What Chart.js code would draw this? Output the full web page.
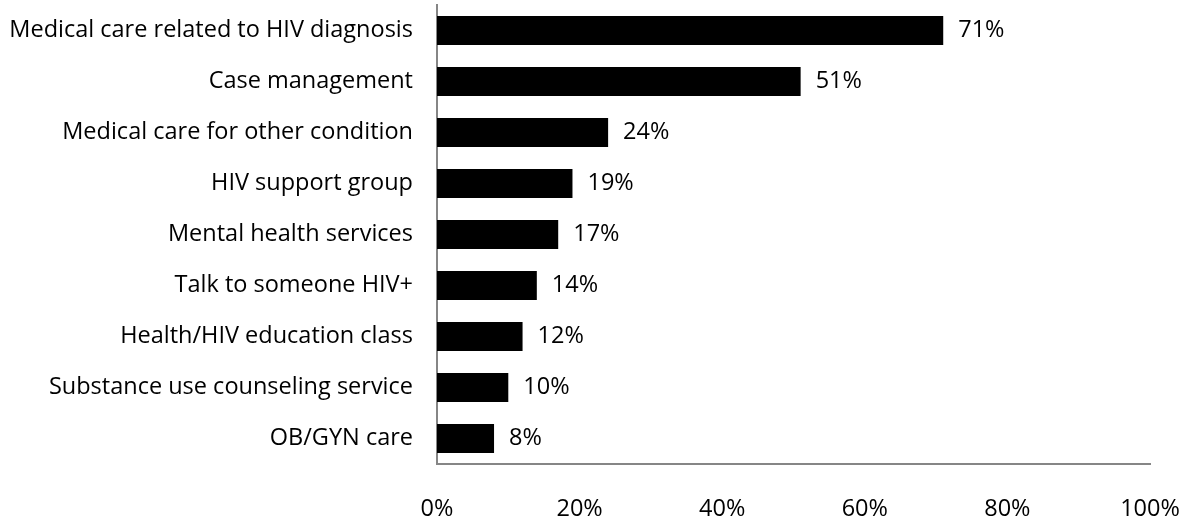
<!DOCTYPE html>
<html>
<head>
<meta charset="utf-8">
<script src="https://cdn.jsdelivr.net/npm/chart.js@4"></script>
<style>
  html, body { margin: 0; padding: 0; background: #fff; }
  #wrap { width: 1188px; height: 522px; position: relative; }
</style>
</head>
<body>
<div id="wrap"><canvas id="chart"></canvas></div>
<script>
// --- Data ---
const categories = [
    'Medical care related to HIV diagnosis',
    'Case management',
    'Medical care for other condition',
    'HIV support group',
    'Mental health services',
    'Talk to someone HIV+',
    'Health/HIV education class',
    'Substance use counseling service',
    'OB/GYN care'
];
const percentValues = [71, 51, 24, 19, 17, 14, 12, 10, 8];
const xTickValues = [0, 20, 40, 60, 80, 100];

const FONT = '"Open Sans", Lato, sans-serif';
const FONT_SIZE = 23.5;

// draws "71%" etc. right of each bar
const barLabels = {
    id: 'barLabels',
    afterDatasetsDraw(chart) {
        const { ctx } = chart;
        const meta = chart.getDatasetMeta(0);
        ctx.save();
        ctx.font = FONT_SIZE + 'px ' + FONT;
        ctx.fillStyle = '#000';
        ctx.textAlign = 'left';
        ctx.textBaseline = 'middle';
        meta.data.forEach((bar, i) => {
            ctx.fillText(percentValues[i] + '%', bar.x + 15, bar.y);
        });
        ctx.restore();
    }
};

new Chart(document.getElementById('chart'), {
    type: 'bar',
    data: {
        labels: categories,
        datasets: [{
            data: percentValues,
            backgroundColor: '#000',
            borderWidth: 0,
            barPercentage: 0.57,
            categoryPercentage: 1
        }]
    },
    options: {
        indexAxis: 'y',
        responsive: true,
        maintainAspectRatio: false,
        animation: false,
        layout: { padding: { top: 5, right: 38, left: 0, bottom: 0 } },
        plugins: { legend: { display: false }, tooltip: { enabled: false } },
        scales: {
            x: {
                min: 0,
                max: 100,
                afterBuildTicks: (scale) => { scale.ticks = xTickValues.map(v => ({ value: v })); },
                afterFit: (scale) => {
                    scale.height = 58;
                    scale.paddingLeft = 0;
                    scale.paddingRight = 0;
                },
                grid: { display: false, drawTicks: false },
                border: { display: true, color: '#868686', width: 2 },
                ticks: {
                    padding: 31,
                    maxRotation: 0,
                    autoSkip: false,
                    color: '#000',
                    font: { family: FONT, size: FONT_SIZE },
                    callback: (v) => v + '%'
                }
            },
            y: {
                afterFit: (scale) => {
                    scale.width = 437;
                    scale.paddingTop = 0;
                    scale.paddingBottom = 0;
                },
                grid: { display: false, drawTicks: false },
                border: { display: true, color: '#868686', width: 2 },
                ticks: {
                    padding: 24,
                    autoSkip: false,
                    color: '#000',
                    font: { family: FONT, size: FONT_SIZE }
                }
            }
        }
    },
    plugins: [barLabels]
});
</script>
</body>
</html>
